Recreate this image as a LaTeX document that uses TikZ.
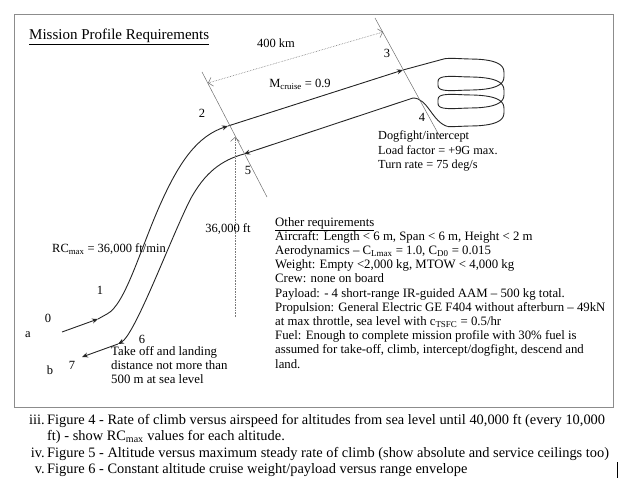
\documentclass[tikz,border=0pt]{standalone}
\usepackage{fontspec}
\setmainfont{Liberation Serif}
\usepackage{tikz}
\usetikzlibrary{arrows.meta, positioning, calc}
\definecolor{framegray}{HTML}{8C8C8C}
\definecolor{cutgray}{HTML}{6E6E6E}
\definecolor{dimgray}{HTML}{7A7A7A}
\tikzset{
    flightpath/.style={
        line width=0.9pt, draw=black!85
    },
    pathtip/.style={
        -{Stealth[length=6pt, width=5pt]}
    },
    cutline/.style={
        line width=0.5pt, draw=cutgray
    },
    dimline/.style={
        densely dotted, line width=0.6pt, draw=dimgray,
        {Straight Barb[length=4pt, width=9pt]}-{Straight Barb[length=4pt, width=9pt]}
    },
    altline/.style={
        densely dotted, line width=0.6pt, draw=dimgray,
        -{Straight Barb[length=4pt, width=9pt]}
    },
    ptlabel/.style={
        font=\fontsize{12.5}{14}\selectfont, inner sep=0pt
    },
    bodytext/.style={
        font=\fontsize{12.8}{14.2}\selectfont, align=left, inner sep=0pt
    },
    listtext/.style={
        font=\fontsize{14.4}{16}\selectfont, inner sep=0pt
    },
    frame/.style={
        draw=framegray, line width=1pt
    }
}

\begin{document}
\begin{tikzpicture}[x=1pt, y=-1pt,
    declare function={sp(\u)=sign(\u)*(abs(\u)+0.00001)^0.6;}]

    \useasboundingbox (0,0) rectangle (640,497);
    \draw[frame] (14,15) rectangle (613,407);

    % ── Title ──
    \node[ptlabel, font=\fontsize{15}{17}\selectfont, anchor=west] (title) at (29,37)
        {\underline{Mission Profile Requirements}};

    % ── Path points ──
    \coordinate (a0)   at (62,332);
    \coordinate (p0)   at (98,319);
    \coordinate (p1)   at (107,314);
    \coordinate (pm)   at (160,205);
    \coordinate (p2)   at (228,126);
    \coordinate (p3)   at (403,70);
    \coordinate (cin)  at (444,58.9);
    \coordinate (cout) at (447.6,126.5);
    \coordinate (p4)   at (413,98);
    \coordinate (p5)   at (244,154);
    \coordinate (pn)   at (190,200);
    \coordinate (p6)   at (118,344);
    \coordinate (b7)   at (82,357);

    % ── Outbound leg ──
    \draw[flightpath, pathtip] (a0) -- (p0);
    \draw[flightpath] (p0) -- (p1);
    \draw[flightpath, pathtip] (p1) .. controls (125,305) and (140,250) .. (pm)
        .. controls (180,160) and (198,136) .. (p2);
    \draw[flightpath, pathtip] (p2) -- (p3);
    \draw[flightpath] (p3) -- (cin);

    % ── Dogfight loops ──
    \draw[flightpath, variable=\t, samples=240, smooth, domain=-0.8:16.308]
        plot ({471+33*sp(sin(\t r))}, {70+18*\t/6.2832-11*sp(cos(\t r))});

    % ── Return leg ──
    \draw[flightpath] (cout) .. controls (432,122) and (428,98) .. (p4);
    \draw[flightpath, pathtip] (p4) -- (p5);
    \draw[flightpath, pathtip] (p5) .. controls (222,160) and (205,172) .. (pn)
        .. controls (170,240) and (135,335) .. (p6);
    \draw[flightpath, pathtip] (p6) -- (b7);

    % ── Cruise segment markers ──
    \coordinate (cA0) at (202,72);
    \coordinate (cA1) at (267,197);
    \coordinate (cB0) at (375,18);
    \coordinate (cB1) at (440,137);
    \draw[cutline] (cA0) -- (cA1);
    \draw[cutline] (cB0) -- (cB1);

    \coordinate (d0) at (208,83);
    \coordinate (d1) at (383,32);
    \draw[dimline] (d0) -- (d1);
    \node[ptlabel] (range) at (276,43) {400 km};
    \node[ptlabel] (mach)  at (300,84) {M\textsubscript{cruise} = 0.9};

    \coordinate (h0) at (235,317);
    \coordinate (h1) at (235,137);
    \draw[altline] (h0) -- (h1);
    \node[ptlabel] (alt) at (228,229) {36,000 ft};

    % ── Point numbers ──
    \node[ptlabel] (n0) at (48,318)  {0};
    \node[ptlabel] (n1) at (100,290) {1};
    \node[ptlabel] (n2) at (202,113) {2};
    \node[ptlabel] (n3) at (387,53)  {3};
    \node[ptlabel] (n4) at (422,117) {4};
    \node[ptlabel] (n5) at (248,170) {5};
    \node[ptlabel] (n6) at (142,339) {6};
    \node[ptlabel] (n7) at (72,365)  {7};
    \node[ptlabel] (na) at (28,335)  {a};
    \node[ptlabel] (nb) at (50,370)  {b};

    % ── Notes ──
    \node[ptlabel] (rc) at (109,249) {RC\textsubscript{max} = 36,000 ft/min};

    \node[bodytext, anchor=north west] (takeoff) at (111,346)
        {Take off and landing\\distance not more than\\500 m at sea level};

    \node[bodytext, font=\fontsize{12.3}{14.2}\selectfont, anchor=north west] (dogfight) at (378,131)
        {Dogfight/intercept\\Load factor = +9G max.\\Turn rate = 75 deg/s};

    \node[bodytext, anchor=north west] (other) at (275,217)
        {\underline{Other requirements}\\
         Aircraft: Length < 6 m, Span < 6 m, Height < 2 m\\
         Aerodynamics -- C\textsubscript{Lmax} = 1.0, C\textsubscript{D0} = 0.015\\
         Weight: Empty <2,000 kg, MTOW < 4,000 kg\\
         Crew: none on board\\
         Payload: - 4 short-range IR-guided AAM -- 500 kg total.\\
         Propulsion: General Electric GE F404 without afterburn -- 49kN\\
         at max throttle, sea level with c\textsubscript{TSFC} = 0.5/hr\\
         Fuel: Enough to complete mission profile with 30\% fuel is\\
         assumed for take-off, climb, intercept/dogfight, descend and\\
         land.};

    % ── Figure list ──
    \node[listtext, anchor=base east] (r3) at (45,424) {iii.};
    \node[listtext, anchor=base west] (f4) at (47,424)
        {Figure 4 - Rate of climb versus airspeed for altitudes from sea level until 40,000 ft (every 10,000};
    \node[listtext, anchor=base west] (f4b) at (47,440)
        {ft) - show RC\textsubscript{max} values for each altitude.};
    \node[listtext, anchor=base east] (r4) at (45,457) {iv.};
    \node[listtext, anchor=base west] (f5) at (47,457)
        {Figure 5 - Altitude versus maximum steady rate of climb (show absolute and service ceilings too)};
    \node[listtext, anchor=base east] (r5) at (45,473) {v.};
    \node[listtext, anchor=base west] (f6) at (47,473)
        {Figure 6 - Constant altitude cruise weight/payload versus range envelope};

    \coordinate (cur0) at (617,462);
    \coordinate (cur1) at (617,478);
    \draw[line width=0.8pt] (cur0) -- (cur1);

\end{tikzpicture}
\end{document}
